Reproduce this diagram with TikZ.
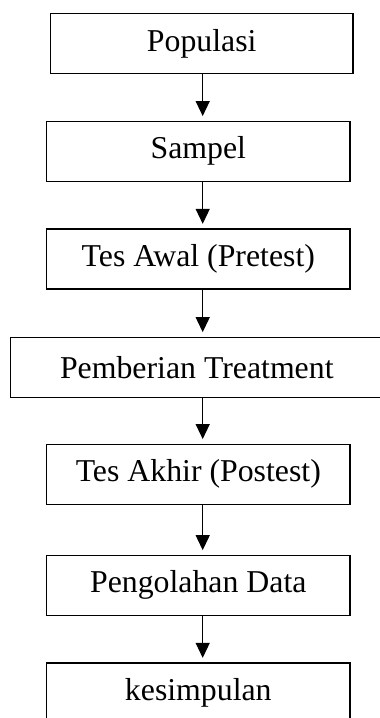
\documentclass[tikz,border=0pt]{standalone}
\usepackage{fontspec}
\setmainfont{Liberation Serif}
\usetikzlibrary{arrows.meta}

\begin{document}
\begin{tikzpicture}[x=1pt,y=-1pt,>={Triangle[width=14pt,length=15pt]},
    kotak/.style={draw,line width=1.3pt,minimum height=60pt,inner sep=0pt,
        font=\fontsize{31.8}{38}\selectfont},
    panah/.style={->,line width=1.3pt,shorten >=4.5pt}]
    \useasboundingbox (0,0) rectangle (380,718);
    \node[kotak,minimum width=302.5pt] (pop) at (201.7,43.7) {Populasi};
    \node[kotak,minimum width=303.3pt] (sam) at (198.3,151.2) {Sampel};
    \node[kotak,minimum width=303.3pt] (pre) at (198.3,259) {Tes Awal (Pretest)};
    \node[kotak,minimum width=372pt] (tre) at (196.8,367.3) {Pemberian Treatment};
    \node[kotak,minimum width=303.3pt] (post) at (198.3,474.2) {Tes Akhir (Postest)};
    \node[kotak,minimum width=303.3pt] (olah) at (198.3,585.3) {Pengolahan Data};
    \node[kotak,minimum width=303.3pt] (simp) at (198.3,693) {kesimpulan};
    % panah antar tahap
    \draw[panah] (pop.south -| 202.7,0) -- (sam.north -| 202.7,0);
    \draw[panah] (sam.south -| 202.7,0) -- (pre.north -| 202.7,0);
    \draw[panah] (pre.south -| 202.7,0) -- (tre.north -| 202.7,0);
    \draw[panah] (tre.south -| 202.7,0) -- (post.north -| 202.7,0);
    \draw[panah] (post.south -| 202.7,0) -- (olah.north -| 202.7,0);
    \draw[panah] (olah.south -| 202.7,0) -- (simp.north -| 202.7,0);
\end{tikzpicture}
\end{document}
